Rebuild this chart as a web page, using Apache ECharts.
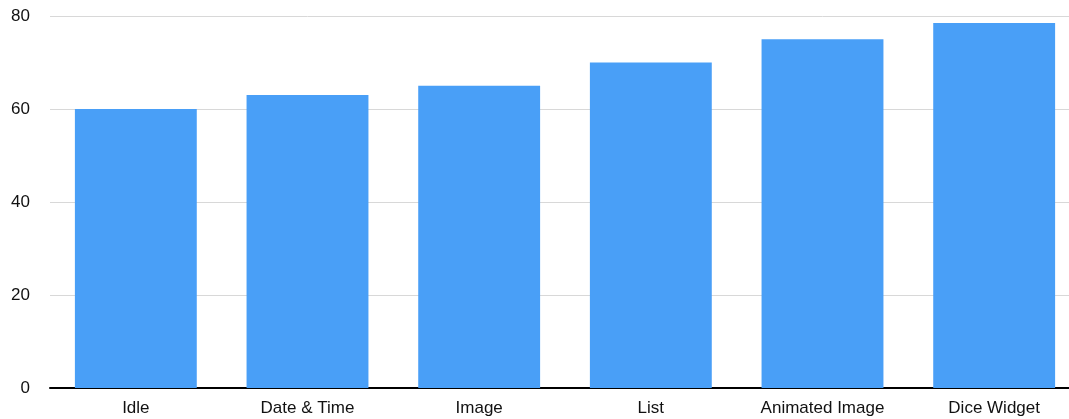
<!DOCTYPE html>
<html>
<head>
<meta charset="utf-8">
<script src="https://cdn.jsdelivr.net/npm/echarts@6/dist/echarts.min.js"></script>
<style>html,body{margin:0;padding:0;background:#fff;overflow:hidden;width:1069px;height:419px}#c{width:1080px;height:419px}</style>
</head>
<body>
<div id="c"></div>
<script>
const categories = ["Idle", "Date & Time", "Image", "List", "Animated Image", "Dice Widget"];
const values = [60, 63, 65, 70, 75, 78.5];
const yTicks = [0, 20, 40, 60, 80];

const chart = echarts.init(document.getElementById('c'), null, {renderer: 'canvas'});
chart.setOption({
  animation: false,
  backgroundColor: '#ffffff',
  grid: {left: 50, top: 16, right: 0, bottom: 31, containLabel: false},
  xAxis: {
    type: 'category',
    data: categories,
    axisLine: {show: true, lineStyle: {color: '#000', width: 2}},
    axisTick: {show: false},
    axisLabel: {color: '#111', fontSize: 17, fontFamily: 'Liberation Sans, Arial, sans-serif', margin: 12}
  },
  yAxis: {
    type: 'value',
    min: yTicks[0],
    max: yTicks[yTicks.length - 1],
    interval: 20,
    axisLine: {show: false},
    axisTick: {show: false},
    splitLine: {lineStyle: {color: '#d8d8d8', width: 1}},
    axisLabel: {color: '#111', fontSize: 17, fontFamily: 'Liberation Sans, Arial, sans-serif', margin: 20, padding: [4, 0, 0, 0]}
  },
  series: [{
    type: 'bar',
    data: values,
    barCategoryGap: '29%',
    itemStyle: {color: '#499ff7'}
  }]
});
</script>
</body>
</html>
